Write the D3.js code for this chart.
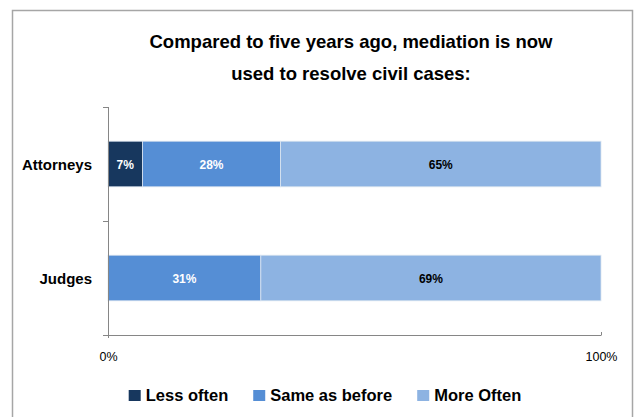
<!DOCTYPE html>
<html>
<head>
<meta charset="utf-8">
<script src="https://cdn.jsdelivr.net/npm/d3@7"></script>
<style>
  html, body { margin: 0; padding: 0; background: #fff; }
  svg { display: block; }
</style>
</head>
<body>
<svg id="chart" width="637" height="417"></svg>
<script>
// ---- data ----
const titleLines = ["Compared to five years ago, mediation is now", "used to resolve civil cases:"];
const categories = ["Attorneys", "Judges"];
const seriesNames = ["Less often", "Same as before", "More Often"];
const lessOften = [0.07, 0];
const sameAsBefore = [0.28, 0.31];
const moreOften = [0.65, 0.69];
const xTickValues = [0, 1];
const xTickLabels = ["0%", "100%"];
const colors = ["#17375E", "#558ED5", "#8DB3E2"];
const labelColors = ["#ffffff", "#ffffff", "#000000"];

const rows = categories.map((c, i) => ({
  category: c,
  values: [lessOften[i], sameAsBefore[i], moreOften[i]]
}));

const svg = d3.select("#chart");
const sans = "'Liberation Sans', Arial, sans-serif";

// outer border
svg.append("rect")
  .attr("x", 12.5).attr("y", 10.5)
  .attr("width", 620).attr("height", 430)
  .attr("fill", "#fff")
  .attr("stroke", "#a6a6a6").attr("stroke-width", 1.5);

// title
const title = svg.append("text")
  .attr("text-anchor", "middle")
  .attr("font-family", sans)
  .attr("font-weight", "bold")
  .attr("font-size", 18.5)
  .attr("fill", "#000");
titleLines.forEach((t, i) => {
  title.append("tspan").attr("x", 351).attr("y", 48 + i * 32).text(t);
});

// scales
const x = d3.scaleLinear().domain([0, 1]).range([108, 601]);
const y = d3.scaleBand().domain(categories).range([107, 335]).paddingInner(0.6).paddingOuter(0.3);

// bars
const g = svg.append("g");
rows.forEach(r => {
  let acc = 0;
  r.values.forEach((v, si) => {
    const x0 = acc, x1 = acc + v;
    acc = x1;
    if (v <= 0) return;
    g.append("rect")
      .attr("x", x(x0)).attr("y", y(r.category))
      .attr("width", x(x1) - x(x0)).attr("height", y.bandwidth())
      .attr("fill", colors[si])
      .attr("stroke", "#dbe5f1").attr("stroke-width", 0.8);
    g.append("text")
      .attr("x", (x(x0) + x(x1)) / 2)
      .attr("y", y(r.category) + y.bandwidth() / 2 + 4.5)
      .attr("text-anchor", "middle")
      .attr("font-family", sans)
      .attr("font-weight", "bold")
      .attr("font-size", 12)
      .attr("fill", labelColors[si])
      .text(Math.round(v * 100) + "%");
  });
});

// axes
const axisColor = "#868686";
// y axis
const yAxis = svg.append("g").attr("transform", "translate(108,0)");
yAxis.append("line").attr("x1", 0.5).attr("x2", 0.5).attr("y1", 107).attr("y2", 338)
  .attr("stroke", axisColor).attr("stroke-width", 1);
const yBoundaries = [y.range()[0], (y(categories[0]) + y.bandwidth() + y(categories[1])) / 2, y.range()[1]];
yBoundaries.forEach(b => {
  yAxis.append("line").attr("x1", -5).attr("x2", 0.5).attr("y1", Math.round(b) + 0.5).attr("y2", Math.round(b) + 0.5)
    .attr("stroke", axisColor).attr("stroke-width", 1);
});
categories.forEach(c => {
  svg.append("text")
    .attr("x", 92)
    .attr("y", y(c) + y.bandwidth() / 2 + 5.5)
    .attr("text-anchor", "end")
    .attr("font-family", sans)
    .attr("font-weight", "bold")
    .attr("font-size", 15)
    .attr("fill", "#000")
    .text(c);
});

// x axis
const xAxis = svg.append("g").attr("transform", "translate(0,335)");
xAxis.append("line").attr("x1", x(0)).attr("x2", x(1)).attr("y1", 0.5).attr("y2", 0.5)
  .attr("stroke", axisColor).attr("stroke-width", 1);
xTickValues.forEach((v, i) => {
  xAxis.append("line").attr("x1", x(v) + 0.5).attr("x2", x(v) + 0.5).attr("y1", -3).attr("y2", 0.5)
    .attr("stroke", axisColor).attr("stroke-width", 1);
  xAxis.append("text")
    .attr("x", x(v) + 0.5).attr("y", 26)
    .attr("text-anchor", "middle")
    .attr("font-family", sans)
    .attr("font-size", 12.5)
    .attr("fill", "#000")
    .text(xTickLabels[i]);
});

// legend
const legend = svg.append("g");
let cx = 0;
seriesNames.forEach((n, i) => {
  const it = legend.append("g");
  it.append("rect").attr("x", 0).attr("y", -11).attr("width", 12).attr("height", 11).attr("fill", colors[i]);
  const t = it.append("text").attr("x", 17).attr("y", 0)
    .attr("font-family", sans).attr("font-weight", "bold").attr("font-size", 16.5)
    .attr("fill", "#000").text(n);
  const w = 17 + t.node().getComputedTextLength();
  it.attr("transform", `translate(${cx},401)`);
  cx += w + 25;
});
const totalW = cx - 25;
legend.attr("transform", `translate(${325 - totalW / 2},0)`);
</script>
</body>
</html>
